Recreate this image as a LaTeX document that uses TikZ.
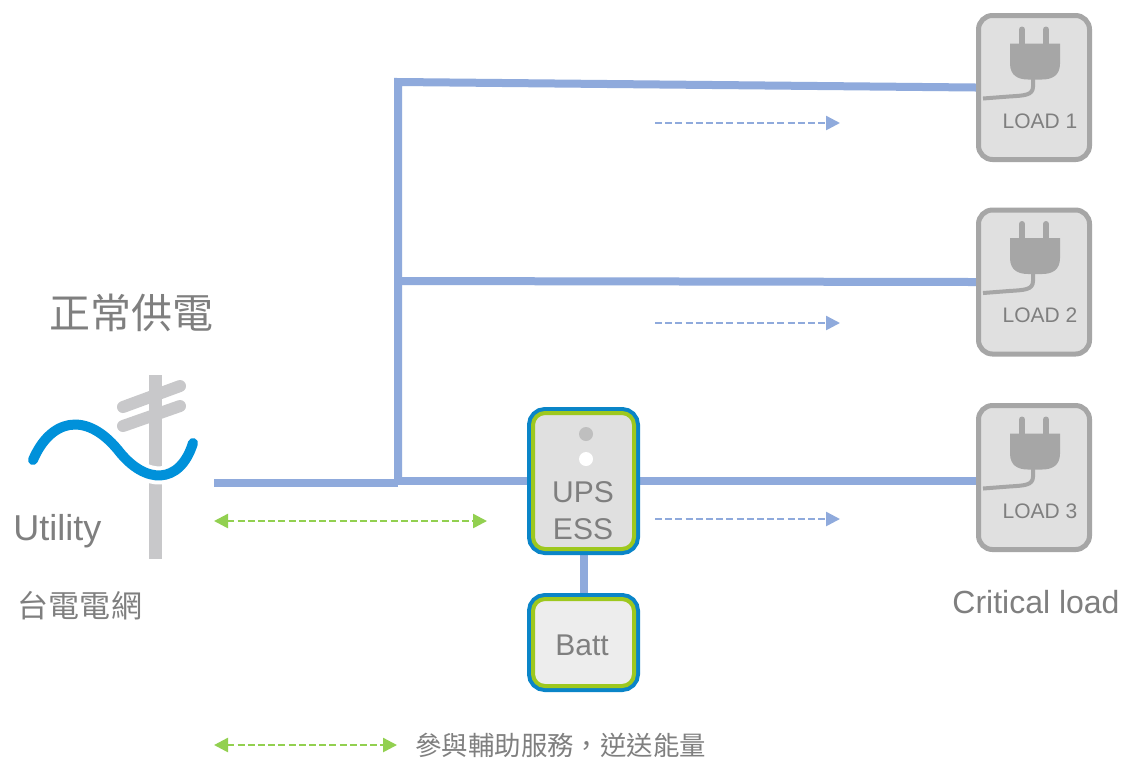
\documentclass[tikz,border=0pt]{standalone}
\usepackage{fontspec}
\setmainfont{Liberation Sans}
\newfontfamily\cjk{Noto Sans CJK TC}
\usetikzlibrary{arrows.meta,backgrounds}
\definecolor{busblue}{HTML}{8FAADC}
\definecolor{wave}{HTML}{0091DA}
\definecolor{pole}{HTML}{C8C8CA}
\definecolor{essblue}{HTML}{0A85C8}
\definecolor{essgreen}{HTML}{9EC81E}
\definecolor{flowgreen}{HTML}{92D050}
\definecolor{loadgray}{HTML}{A6A6A6}
\definecolor{txtgray}{HTML}{7F7F7F}
\tikzset{
  bus/.style={busblue,line width=4pt},
  loadbox/.style={draw=loadgray,line width=2.5pt,fill=black!12,rounded corners=7pt,minimum width=55.5pt,minimum height=72pt,inner sep=0pt},
  dualbox/.style={draw=essgreen,line width=2pt,rounded corners=6pt,inner sep=0pt,minimum width=50.5pt,preaction={draw=essblue,line width=6pt}},
  lbl/.style={text=txtgray,inner sep=0pt},
  flow/.style={line width=1.25pt,dash pattern=on 3.5pt off 1.6pt},
}
\begin{document}
\begin{tikzpicture}[x=0.5pt,y=-0.5pt]
\useasboundingbox (0,0) rectangle (1122,757);

% utility pole and wave
\draw[pole,line width=6.5pt] (155,375) -- (155,559);
\draw[pole,line width=6pt,line cap=round] (123,407) -- (180,386);
\draw[pole,line width=6pt,line cap=round] (123,426) -- (180,406);
\draw[white,line width=9pt,line cap=round] (33,460) .. controls (50,420) and (85,410) .. (118,450) .. controls (145,485) and (180,485) .. (193,443);
\draw[wave,line width=5pt,line cap=round] (33,460) .. controls (50,420) and (85,410) .. (118,450) .. controls (145,485) and (180,485) .. (193,443);

\node[lbl,font=\cjk\fontsize{20.5}{24}\selectfont] (title) at (131,313) {正常供電};
\node[lbl,anchor=base west,font=\fontsize{18}{22}\selectfont] (util) at (13,540) {Utility};
\node[lbl,font=\cjk\fontsize{15.5}{19}\selectfont] (grid) at (80,606) {台電電網};

% loads
\foreach \n/\y in {1/87.5,2/282,3/477.5}
{
\node[loadbox] (L\n) at (1034,\y) {};
\node[lbl,anchor=base,font=\fontsize{10.5}{12}\selectfont] (t\n) at ([shift={(6,40.5)}]L\n.center) {LOAD \n};
\begin{scope}[shift={(L\n.center)}]
\draw[loadgray,line width=3pt,line cap=round] (-12,-58) -- (-12,-44) (12,-58) -- (12,-44);
\fill[loadgray] (-24,-44) -- (26,-44) -- (26,-24) .. controls (26,-12) and (18,-8) .. (8,-8) -- (-6,-8) .. controls (-16,-8) and (-24,-12) .. (-24,-24) -- cycle;
\draw[loadgray,line width=2pt] (-1,-10) -- (-1,-1) .. controls (-1,8) and (-10,8) .. (-25,9) -- (-51,11);
\end{scope}
}
\node[lbl,anchor=base west,font=\fontsize{16}{19}\selectfont] (crit) at (952,613) {Critical load};

% ups and battery
\node[dualbox,fill=black!12,minimum height=68pt] (ups) at (583.5,481) {};
\fill[black!25] (586,434) circle (3.5pt);
\fill[white] (586,459) circle (3.5pt);
\node[lbl,anchor=base,font=\fontsize{15}{18}\selectfont] (upst) at (583,502) {UPS};
\node[lbl,anchor=base,font=\fontsize{15}{18}\selectfont] (esst) at (583,539) {ESS};
\node[dualbox,fill=black!7,minimum height=43.5pt] (batt) at (583.5,642.5) {};
\node[lbl,anchor=base,font=\fontsize{15}{18}\selectfont] (battt) at (582,655) {Batt};

% power bus
\coordinate (src) at (214,483);
\coordinate (j1) at (398,82);
\coordinate (j2) at (398,281);
\coordinate (j3) at (398,483);
\begin{scope}[on background layer]
\fill[white] (0,0) rectangle (1122,757);
\draw[bus] (L1.west) -- (j1) -- (j3);
\draw[bus] (j2) -- (L2.west);
\draw[bus] (src) -- (j3);
\draw[bus] (j3 |- ups.west) -- (ups.west);
\draw[bus] (ups.east) -- (ups.east -| L3.west);
\draw[bus] (ups.south) -- (batt.north);
\end{scope}

% power flow
\foreach \n/\y in {1/123,2/323,3/519}
{
\coordinate (fa\n) at (655,\y);
\coordinate (fb\n) at (840,\y);
\draw[flow,busblue,-{Triangle[length=7pt,width=7pt]}] (fa\n) -- (fb\n);
}
\coordinate (ga) at (214,521);
\coordinate (gb) at (487,521);
\draw[flow,flowgreen,{Triangle[length=7pt,width=7pt]}-{Triangle[length=7pt,width=7pt]}] (ga) -- (gb);

% legend
\coordinate (la) at (214,745);
\coordinate (lb) at (397,745);
\draw[flow,flowgreen,{Triangle[length=7pt,width=7pt]}-{Triangle[length=7pt,width=7pt]}] (la) -- (lb);
\node[lbl,anchor=west,font=\cjk\fontsize{13.2}{16}\selectfont] (leg) at (415,745) {參與輔助服務，逆送能量};

\end{tikzpicture}
\end{document}
